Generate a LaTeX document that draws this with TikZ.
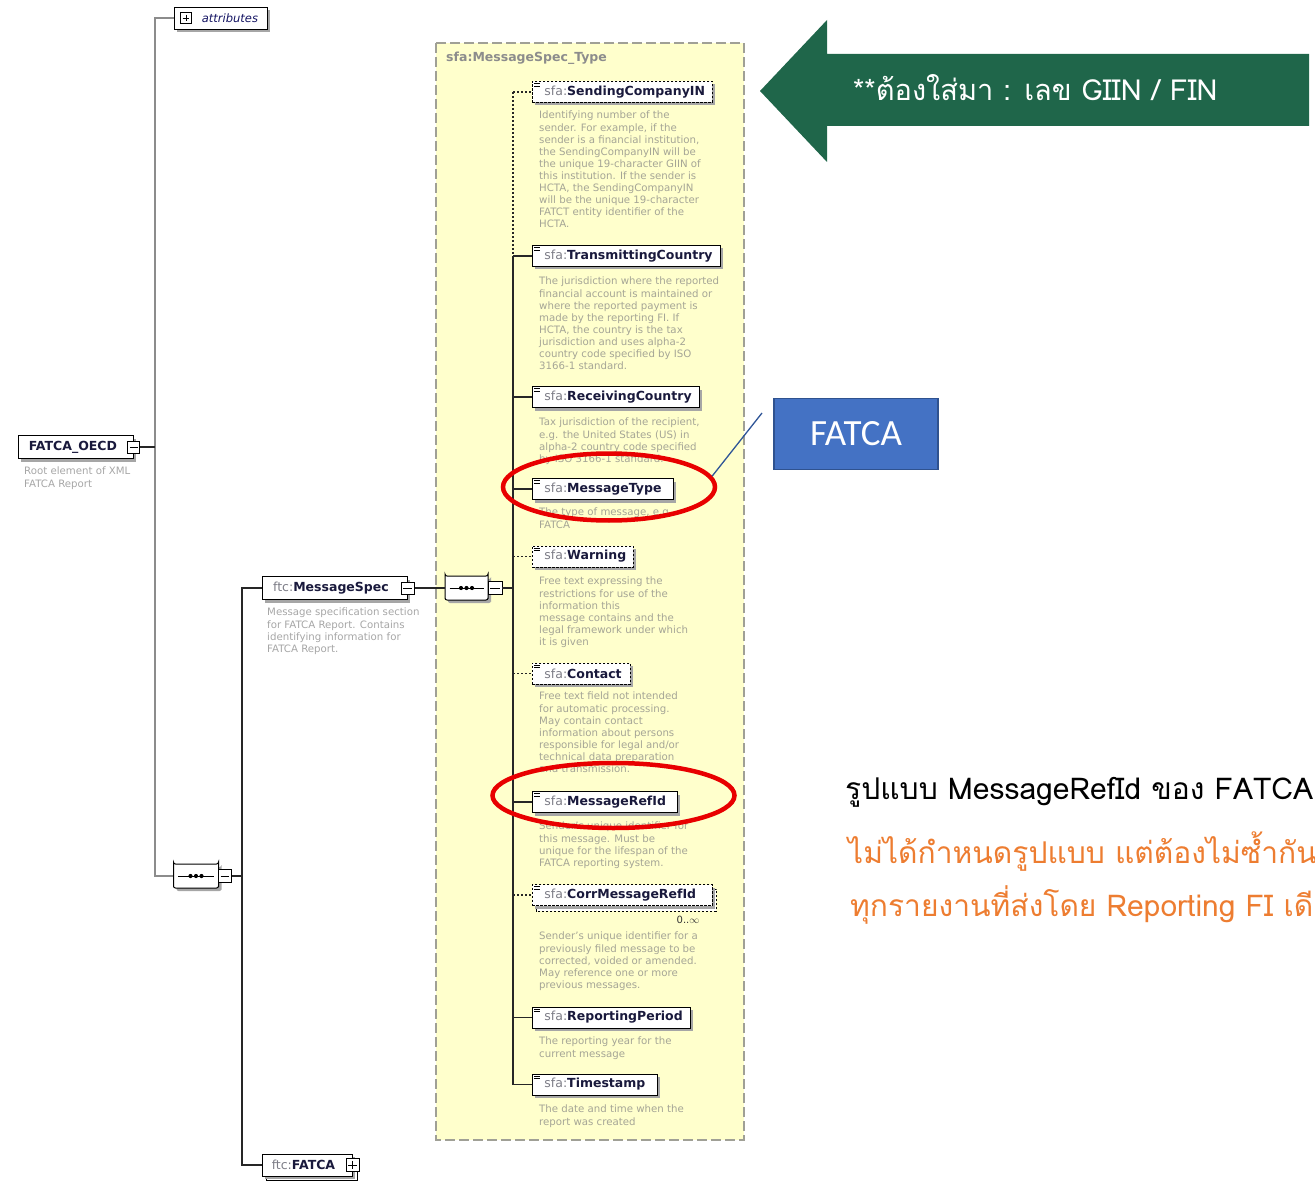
\documentclass[tikz,border=0pt]{standalone}
\usepackage{fontspec}
\setmainfont{DejaVu Sans}
\newfontfamily\thaifont[Script=Thai]{Loma}
\newfontfamily\callfont{Carlito}
\usetikzlibrary{shadows,shapes.misc,shapes.geometric}

\definecolor{yel}{RGB}{255,255,204}
\definecolor{yelborder}{RGB}{160,160,150}
\definecolor{descgray}{RGB}{165,165,150}
\definecolor{namecol}{RGB}{25,25,60}
\definecolor{pfxgray}{RGB}{125,125,135}
\definecolor{arrowgreen}{RGB}{31,102,74}
\definecolor{callblue}{RGB}{68,114,196}
\definecolor{callborder}{RGB}{47,82,143}
\definecolor{leadblue}{RGB}{47,85,151}
\definecolor{ringred}{RGB}{232,0,0}
\definecolor{thaiorange}{RGB}{237,125,49}

% element label: grey namespace prefix followed by the bold local name
\newcommand\pfx[1]{\textcolor{pfxgray}{\mdseries #1}}
\newcommand\nm[1]{\textcolor{namecol}{\bfseries #1}}
% small "simple type" mark in the top-left corner of an element box
\newcommand\simpleicon[1]{%
  \draw[line width=0.9pt] ([shift={(2,2.5)}]#1.north west) -- ++(6,0)
                          ([shift={(2,5)}]#1.north west) -- ++(6,0);}
% expand / collapse toggles
\newcommand\minusmark[1]{\draw[line width=0.9pt] ([xshift=2.5pt]#1.west) -- ([xshift=-2.5pt]#1.east);}
\newcommand\plusmark[1]{\minusmark{#1}\draw[line width=0.9pt] ([shift={(0,2.5)}]#1.north) -- ([shift={(0,-2.5)}]#1.south);}
% sequence compositor content: a line with three dots
\newcommand\seqmark[1]{%
  \draw[line width=1pt] ([xshift=5pt]#1.west) -- ([xshift=-5pt]#1.east);
  \foreach \dx in {-5.5,0,5.5} \fill ([xshift=\dx pt]#1.center) circle (2.1pt);}

\tikzset{
  shade3/.style={drop shadow={shadow xshift=3pt, shadow yshift=-3pt, fill=black!35, opacity=1}},
  elem/.style={draw, line width=0.9pt, fill=white, shade3, anchor=west,
    minimum height=21pt, inner xsep=0pt, inner ysep=0pt, align=left,
    font=\fontsize{12.5}{14}\selectfont},
  topbox/.style={draw, line width=0.9pt, fill=white, shade3, anchor=west,
    minimum height=23pt, inner sep=0pt, font=\fontsize{12.5}{14}\selectfont},
  optline/.style={dash pattern=on 2.2pt off 1.8pt},
  desc/.style={anchor=north west, align=left, text=descgray, inner sep=0pt,
    font=\fontsize{10.2}{12.1}\selectfont},
  toggle/.style={draw, line width=0.9pt, fill=white, minimum width=12pt,
    minimum height=12pt, inner sep=0pt},
  seqbox/.style={chamfered rectangle, chamfered rectangle xsep=5pt,
    chamfered rectangle ysep=5pt, rounded corners=2pt,
    draw, line width=1pt, fill=white, shade3, minimum height=24pt,
    inner sep=0pt},
  link/.style={line width=1.2pt, black!85},
  ring/.style={ellipse, draw=ringred, line width=4.5pt, inner sep=0pt},
  thaitext/.style={anchor=base west, inner sep=0pt, font=\thaifont\fontsize{30}{36}\selectfont},
}

\begin{document}
\begin{tikzpicture}[x=1pt, y=-1pt]
\useasboundingbox (0,0) rectangle (1315,1182);
\clip (0,0) rectangle (1315,1182);

% ---------- complex type frame ----------
\draw[yelborder, line width=1.3pt, dash pattern=on 10pt off 4pt, fill=yel]
  (436,43) rectangle (744,1140);
\node[anchor=west, inner sep=0pt, text=black!45, font=\bfseries\fontsize{12.5}{14}\selectfont]
  (typename) at (446,58) {sfa:MessageSpec\_Type};

% ---------- root element ----------
\node[topbox, minimum width=115pt] (oecd) at (18,447) {\nm{FATCA\_OECD}\hspace*{6pt}};
\node[toggle] (oecdt) at (oecd.east) {};
\minusmark{oecdt}
\node[desc, text=black!35] (oecdd) at (24,467) {Root element of XML\\FATCA Report};

% attributes
\node[topbox, minimum width=93pt, minimum height=22pt, shade3/.style={}] (attr) at (174,18)
  {\hspace*{18pt}\textcolor{namecol!80!blue}{\itshape\fontsize{11.5}{13}\selectfont attributes}};
\node[toggle, minimum width=11pt, minimum height=11pt] (attrt) at (186,18) {};
\plusmark{attrt}

% top-level sequence
\node[seqbox, minimum width=45pt] (seq0) at (196,876) {};
\seqmark{seq0}
\node[toggle, minimum width=13pt, minimum height=13pt] (seq0t) at (225,876) {};
\minusmark{seq0t}

\coordinate (trunkA) at (155,18);
\coordinate (trunkB) at (242,588);
\draw[line width=1.5pt, black!45] (attr.west) -- (trunkA) |- (seq0.west);
\draw[link] (oecdt.east) -- (oecdt.east -| trunkA);
\draw[link] (seq0t.east) -- (seq0t.east -| trunkB);

% MessageSpec
\node[topbox, minimum width=145pt] (mspec) at (262,588) {\pfx{ftc:}\nm{MessageSpec}\hspace*{8pt}};
\node[toggle, minimum width=13pt] (mspect) at (mspec.east) {};
\minusmark{mspect}
\node[desc, text=black!35] (mspecd) at (267,608)
  {Message specification section\\for FATCA Report. Contains\\identifying information for\\FATCA Report.};

% FATCA (repeating)
\draw[line width=0.9pt, fill=white] (266,1158) rectangle (357,1180);
\node[topbox, minimum width=90pt, minimum height=22pt] (fatcael) at (262,1165) {\pfx{ftc:}\nm{FATCA}\hspace*{8pt}};
\node[toggle, minimum width=13pt, minimum height=13pt] (fatcat) at (fatcael.east) {};
\plusmark{fatcat}

\draw[link] (mspec.west) -| (trunkB) |- (fatcael.west);

% inner sequence
\node[seqbox, minimum width=43pt] (seq1) at (466.5,588) {};
\seqmark{seq1}
\node[toggle, minimum width=14pt, minimum height=13pt] (seq1t) at (495,588) {};
\minusmark{seq1t}
\draw[link] (mspect.east) -- (seq1.west);

% ---------- children of MessageSpec_Type ----------
\node[elem, optline, text width=180pt] (sci) at (532,92) {\hspace*{12pt}\pfx{sfa:}\nm{SendingCompanyIN}};
\node[elem, text width=188pt] (tc)  at (532,256)  {\hspace*{12pt}\pfx{sfa:}\nm{TransmittingCountry}};
\node[elem, text width=167pt] (rc)  at (532,397)  {\hspace*{12pt}\pfx{sfa:}\nm{ReceivingCountry}};
\node[elem, text width=141pt] (mt)  at (532,489)  {\hspace*{12pt}\pfx{sfa:}\nm{MessageType}};
\node[elem, optline, text width=101pt] (wa)  at (532,556.5) {\hspace*{12pt}\pfx{sfa:}\nm{Warning}};
\node[elem, optline, text width=98pt]  (co)  at (532,673.5) {\hspace*{12pt}\pfx{sfa:}\nm{Contact}};
\node[elem, text width=145pt] (mr)  at (532,802)  {\hspace*{12pt}\pfx{sfa:}\nm{MessageRefId}};
\draw[optline, line width=0.9pt, fill=white] (536,889) rectangle (716,911);
\node[elem, optline, text width=180pt] (cm)  at (532,895)  {\hspace*{12pt}\pfx{sfa:}\nm{CorrMessageRefId}};
\node[elem, text width=158pt] (rp)  at (532,1017.5) {\hspace*{12pt}\pfx{sfa:}\nm{ReportingPeriod}};
\node[elem, text width=125pt] (ts)  at (532,1084.5) {\hspace*{12pt}\pfx{sfa:}\nm{Timestamp}};
\foreach \n in {sci,tc,rc,mt,wa,co,mr,cm,rp,ts} {\simpleicon{\n}}
\node[inner sep=0pt, font=\fontsize{10}{12}\selectfont, text=black!80] (cmocc) at (688,920) {0..$\infty$};

% spine of the sequence
\coordinate (spTop) at (513,92);
\coordinate (spMid) at (513,256);
\coordinate (spBot) at (513,1084.5);
\draw[link, optline] (spTop) -- (spMid);
\draw[link] (spMid) -- (spBot);
\draw[link] (seq1t.east) -- (seq1t.east -| spTop);
\foreach \n in {sci,wa,co,cm} {\draw[link, optline] (\n.west -| spTop) -- (\n.west);}
\foreach \n in {tc,rc,mt,mr,rp,ts} {\draw[link] (\n.west -| spTop) -- (\n.west);}

% descriptions
\node[desc] (scid) at (539,111) {Identifying number of the\\sender. For example, if the\\sender is a financial institution,\\the SendingCompanyIN will be\\the unique 19-character GIIN of\\this institution. If the sender is\\HCTA, the SendingCompanyIN\\will be the unique 19-character\\FATCT entity identifier of the\\HCTA.};
\node[desc] (tcd) at (539,277) {The jurisdiction where the reported\\financial account is maintained or\\where the reported payment is\\made by the reporting FI. If\\HCTA, the country is the tax\\jurisdiction and uses alpha-2\\country code specified by ISO\\3166-1 standard.};
\node[desc] (rcd) at (539,418) {Tax jurisdiction of the recipient,\\e.g. the United States (US) in\\alpha-2 country code specified\\by ISO 3166-1 standard.};
\node[desc] (mtd) at (539,508) {The type of message, e.g.\\FATCA};
\node[desc] (wad) at (539,577) {Free text expressing the\\restrictions for use of the\\information this\\message contains and the\\legal framework under which\\it is given};
\node[desc] (cod) at (539,692) {Free text field not intended\\for automatic processing.\\May contain contact\\information about persons\\responsible for legal and/or\\technical data preparation\\and transmission.};
\node[desc] (mrd) at (539,822) {Sender's unique identifier for\\this message. Must be\\unique for the lifespan of the\\FATCA reporting system.};
\node[desc] (cmd) at (539,932) {Sender's unique identifier for a\\previously filed message to be\\corrected, voided or amended.\\May reference one or more\\previous messages.};
\node[desc] (rpd) at (539,1037) {The reporting year for the\\current message};
\node[desc] (tsd) at (539,1105) {The date and time when the\\report was created};

% ---------- highlights ----------
\node[ring, minimum width=212pt, minimum height=67pt] (ring1) at (609,487) {};
\node[ring, minimum width=242pt, minimum height=65pt] (ring2) at (613.5,795.5) {};

% ---------- callouts ----------
\fill[arrowgreen] (760,91) -- (827,20) -- (827,54) -- (1309,54) -- (1309,126)
  -- (827,126) -- (827,162) -- cycle;
\node[anchor=base west, inner sep=0pt, text=white, font=\thaifont\fontsize{29}{34}\selectfont]
  (must) at (853,101) {**ต้องใส่มา : เลข GIIN / FIN};

\node[fill=callblue, draw=callborder, line width=1.3pt, minimum width=164pt,
  minimum height=71pt, inner sep=0pt, text=white, font=\callfont\fontsize{37}{44}\selectfont]
  (fatca) at (856,434) {FATCA};
\coordinate (lead) at (762,413);
\draw[leadblue, line width=1.3pt] (lead) -- (ring1.6);

\node[thaitext] (fmt1) at (845,799) {รูปแบบ MessageRefId ของ FATCA};
\node[thaitext, text=thaiorange] (fmt2) at (848,863) {ไม่ได้กำหนดรูปแบบ แต่ต้องไม่ซ้ำกันใน};
\node[thaitext, text=thaiorange] (fmt3) at (850,916) {ทุกรายงานที่ส่งโดย Reporting FI เดียวกัน};
\end{tikzpicture}
\end{document}
